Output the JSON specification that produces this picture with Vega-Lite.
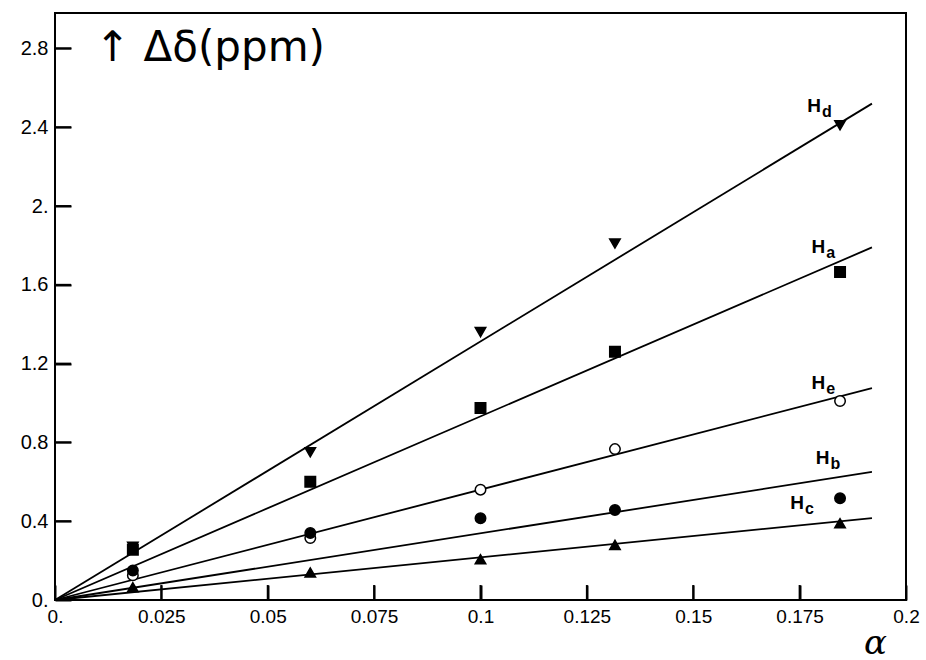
{
  "$schema": "https://vega.github.io/schema/vega-lite/v6.json",
  "width": 851,
  "height": 587,
  "autosize": {"type": "none"},
  "padding": {"left": 55, "top": 13, "right": 20, "bottom": 60},
  "background": "white",
  "config": {
    "view": {"stroke": "black", "strokeWidth": 2},
    "axis": {"grid": false, "domain": false, "ticks": true, "tickColor": "black", "tickWidth": 2, "tickOpacity": 1, "labelFlush": false, "labelColor": "black", "labelFont": "Liberation Sans", "labelFontSize": 19, "titleColor": "black"}
  },
  "datasets": {
    "lines": [
      {"series": "Hd", "x": 0, "y": 0}, {"series": "Hd", "x": 0.192, "y": 2.52},
      {"series": "Ha", "x": 0, "y": 0}, {"series": "Ha", "x": 0.192, "y": 1.79},
      {"series": "He", "x": 0, "y": 0}, {"series": "He", "x": 0.192, "y": 1.076},
      {"series": "Hb", "x": 0, "y": 0}, {"series": "Hb", "x": 0.192, "y": 0.65},
      {"series": "Hc", "x": 0, "y": 0}, {"series": "Hc", "x": 0.192, "y": 0.416}
    ],
    "points": [
      {"series": "Hd", "x": 0.0183, "y": 0.27}, {"series": "Hd", "x": 0.0600, "y": 0.75}, {"series": "Hd", "x": 0.1000, "y": 1.36}, {"series": "Hd", "x": 0.1316, "y": 1.81}, {"series": "Hd", "x": 0.1845, "y": 2.41},
      {"series": "Ha", "x": 0.0183, "y": 0.255}, {"series": "Ha", "x": 0.0600, "y": 0.60}, {"series": "Ha", "x": 0.1000, "y": 0.975}, {"series": "Ha", "x": 0.1316, "y": 1.26}, {"series": "Ha", "x": 0.1845, "y": 1.665},
      {"series": "He", "x": 0.0183, "y": 0.125}, {"series": "He", "x": 0.0600, "y": 0.315}, {"series": "He", "x": 0.1000, "y": 0.56}, {"series": "He", "x": 0.1316, "y": 0.766}, {"series": "He", "x": 0.1845, "y": 1.01},
      {"series": "Hb", "x": 0.0183, "y": 0.15}, {"series": "Hb", "x": 0.0600, "y": 0.34}, {"series": "Hb", "x": 0.1000, "y": 0.415}, {"series": "Hb", "x": 0.1316, "y": 0.457}, {"series": "Hb", "x": 0.1845, "y": 0.517},
      {"series": "Hc", "x": 0.0183, "y": 0.065}, {"series": "Hc", "x": 0.0600, "y": 0.14}, {"series": "Hc", "x": 0.1000, "y": 0.207}, {"series": "Hc", "x": 0.1316, "y": 0.28}, {"series": "Hc", "x": 0.1845, "y": 0.39}
    ],
    "labels": [
      {"main": "H", "sub": "d", "x": 0.180, "y": 2.51},
      {"main": "H", "sub": "a", "x": 0.181, "y": 1.79},
      {"main": "H", "sub": "e", "x": 0.181, "y": 1.10},
      {"main": "H", "sub": "b", "x": 0.182, "y": 0.72},
      {"main": "H", "sub": "c", "x": 0.176, "y": 0.49}
    ],
    "title": [
      {"text": "↑   Δδ(ppm)", "x": 0.0094, "y": 2.8}
    ],
    "xticks": [{"v": 0.025}, {"v": 0.05}, {"v": 0.075}, {"v": 0.1}, {"v": 0.125}, {"v": 0.15}, {"v": 0.175}],
    "yticks": [{"v": 0.4}, {"v": 0.8}, {"v": 1.2}, {"v": 1.6}, {"v": 2.0}, {"v": 2.4}, {"v": 2.8}]
  },
  "layer": [
    {
      "data": {"name": "lines"},
      "mark": {"type": "line", "color": "black", "strokeWidth": 1.8},
      "encoding": {
        "x": {"field": "x", "type": "quantitative",
          "scale": {"domain": [0, 0.2], "nice": false, "zero": false},
          "axis": {"values": [0, 0.025, 0.05, 0.075, 0.1, 0.125, 0.15, 0.175, 0.2], "tickSize": -15, "labelPadding": 22,
            "labelExpr": "datum.value == 0 ? '0.' : format(datum.value, '.3~f')",
            "title": "α", "titleFont": "DejaVu Serif", "titleFontStyle": "italic", "titleFontWeight": "normal", "titleFontSize": 34,
            "titleX": 820, "titleY": 53, "titleAlign": "center", "titleBaseline": "alphabetic"}},
        "y": {"field": "y", "type": "quantitative",
          "scale": {"domain": [0, 2.98], "nice": false, "zero": false},
          "axis": {"values": [0, 0.4, 0.8, 1.2, 1.6, 2.0, 2.4, 2.8], "tickSize": -16, "labelPadding": 23, "labelFontSize": 20,
            "labelExpr": "datum.value == 0 ? '0.' : (abs(datum.value - round(datum.value)) < 0.001 ? format(datum.value, 'd') + '.' : format(datum.value, '.1f'))",
            "title": null}},
        "detail": {"field": "series"}
      }
    },
    {
      "data": {"name": "xticks"},
      "mark": {"type": "rule", "color": "black", "strokeWidth": 2},
      "encoding": {
        "x": {"field": "v", "type": "quantitative"},
        "y": {"datum": 0},
        "y2": {"datum": 0.076}
      }
    },
    {
      "data": {"name": "yticks"},
      "mark": {"type": "rule", "color": "black", "strokeWidth": 2},
      "encoding": {
        "y": {"field": "v", "type": "quantitative"},
        "x": {"datum": 0},
        "x2": {"datum": 0.0038}
      }
    },
    {
      "data": {"name": "points"},
      "mark": {"type": "point", "size": 110, "stroke": "black", "strokeWidth": 1.5, "opacity": 1},
      "encoding": {
        "x": {"field": "x", "type": "quantitative"},
        "y": {"field": "y", "type": "quantitative"},
        "shape": {"field": "series", "scale": {"domain": ["Hd", "Ha", "He", "Hb", "Hc"], "range": ["triangle-down", "square", "circle", "circle", "triangle-up"]}, "legend": null},
        "fill": {"field": "series", "scale": {"domain": ["Hd", "Ha", "He", "Hb", "Hc"], "range": ["black", "black", "white", "black", "black"]}, "legend": null}
      }
    },
    {
      "data": {"name": "labels"},
      "mark": {"type": "text", "font": "Liberation Sans", "fontWeight": "bold", "fontSize": 19, "align": "right", "baseline": "middle", "color": "black"},
      "encoding": {
        "x": {"field": "x", "type": "quantitative"},
        "y": {"field": "y", "type": "quantitative"},
        "text": {"field": "main"}
      }
    },
    {
      "data": {"name": "labels"},
      "mark": {"type": "text", "font": "Liberation Sans", "fontWeight": "bold", "fontSize": 16, "align": "left", "baseline": "middle", "dx": 1, "dy": 6, "color": "black"},
      "encoding": {
        "x": {"field": "x", "type": "quantitative"},
        "y": {"field": "y", "type": "quantitative"},
        "text": {"field": "sub"}
      }
    },
    {
      "data": {"name": "title"},
      "mark": {"type": "text", "font": "DejaVu Sans", "fontSize": 42, "align": "left", "baseline": "middle", "color": "black"},
      "encoding": {
        "x": {"field": "x", "type": "quantitative"},
        "y": {"field": "y", "type": "quantitative"},
        "text": {"field": "text"}
      }
    }
  ]
}
